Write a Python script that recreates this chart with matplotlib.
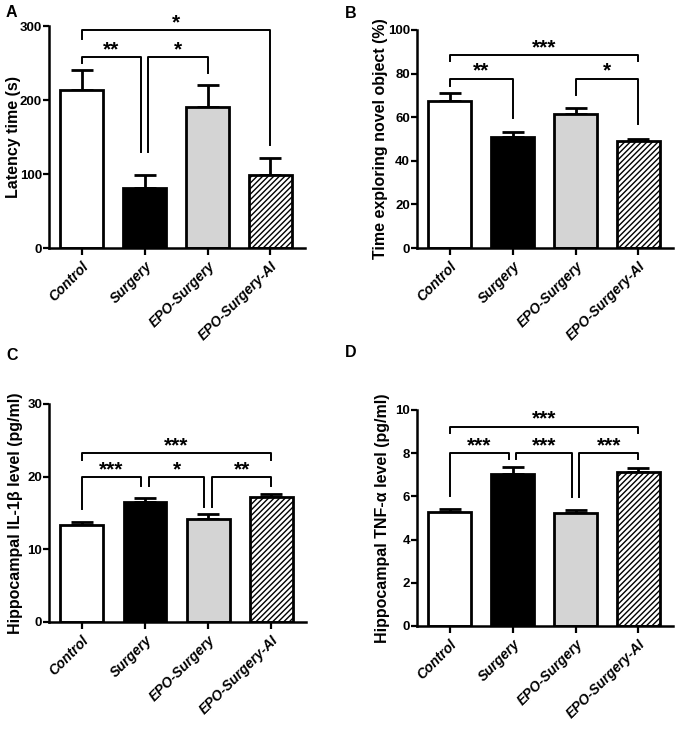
import matplotlib
matplotlib.use("Agg")
import matplotlib.pyplot as plt

plt.rcParams['font.family'] = ['Liberation Sans', 'DejaVu Sans']
plt.rcParams['font.weight'] = 'bold'
plt.rcParams['hatch.linewidth'] = 1.0

# groups shared by all four panels
groups = ["Control", "Surgery", "EPO-Surgery", "EPO-Surgery-AI"]
bar_colors = ["white", "black", "#d4d4d4", "white"]
bar_hatches = [None, None, None, "//////"]

# A: latency time (s)
latency_mean = [213, 81, 191, 99]
latency_err = [28, 18, 29, 23]
# B: time exploring novel object (%)
novel_mean = [67.6, 51.0, 61.3, 49.0]
novel_err = [3.4, 2.1, 3.0, 1.2]
# C: hippocampal IL-1beta (pg/ml)
il1b_mean = [13.4, 16.5, 14.2, 17.2]
il1b_err = [0.3, 0.5, 0.6, 0.4]
# D: hippocampal TNF-alpha (pg/ml)
tnf_mean = [5.27, 7.06, 5.24, 7.11]
tnf_err = [0.15, 0.31, 0.15, 0.19]

# significance brackets: (group i, group j, top, left leg end, right leg end, label)
latency_sig = [(0, 3, 294, 283, 139, "*"),
               (0, 1, 258, 250, 130, "**"),
               (1, 2, 258, 130, 237, "*")]
novel_sig = [(0, 3, 88.6, 85.6, 85.6, "***"),
             (0, 1, 77.7, 74.5, 59.7, "**"),
             (2, 3, 77.7, 70.0, 57.0, "*")]
il1b_sig = [(0, 3, 23.2, 22.3, 22.3, "***"),
            (0, 1, 19.9, 15.6, 18.7, "***"),
            (1, 2, 19.9, 18.7, 15.8, "*"),
            (2, 3, 19.9, 15.8, 18.7, "**")]
tnf_sig = [(0, 3, 9.23, 8.92, 8.92, "***"),
           (0, 1, 7.99, 6.01, 7.71, "***"),
           (1, 2, 7.99, 7.71, 5.98, "***"),
           (2, 3, 7.99, 5.98, 7.71, "***")]

W, H = 680, 741
fig = plt.figure(figsize=(W / 100, H / 100), dpi=100)


def px_axes(left, right, top, bottom):
    return fig.add_axes([left / W, 1 - bottom / H, (right - left) / W, (bottom - top) / H])


def draw_panel(ax, means, errs, ymax, ystep, ylabel, sigs, letter, letter_xy, label_dx):
    x = range(len(groups))
    for i in x:
        ax.bar(i, means[i], width=0.68, color=bar_colors[i], edgecolor="black",
               linewidth=2.0, hatch=bar_hatches[i], zorder=2)
        ax.errorbar(i, means[i], yerr=[[0], [errs[i]]], color="black",
                    elinewidth=2.0, capsize=8, capthick=2.0, zorder=1)
    ax.set_xlim(-0.52, 3.55)
    ax.set_ylim(0, ymax)
    ax.set_yticks([v * ystep for v in range(int(round(ymax / ystep)) + 1)])
    ax.set_xticks(list(x))
    ax.set_xticklabels(groups, rotation=45, ha="right", rotation_mode="anchor",
                       fontsize=10, fontweight="bold", fontstyle="italic")
    ax.tick_params(axis="y", labelsize=9.5, width=1.6, length=4, pad=1)
    ax.tick_params(axis="x", width=1.6, length=5, pad=3)
    for lbl in ax.get_yticklabels():
        lbl.set_fontweight("bold")
    ax.spines["top"].set_visible(False)
    ax.spines["right"].set_visible(False)
    ax.spines["left"].set_linewidth(1.8)
    ax.spines["bottom"].set_linewidth(1.8)
    ax.set_ylabel(ylabel, fontsize=11.5, fontweight="bold", va="center")
    bbox = ax.get_position()
    ax.yaxis.set_label_coords(label_dx / (bbox.width * W), 0.5)
    for i, j, top, yl, yr, label in sigs:
        adj = j - i == 1
        xi = i + (0.06 if adj and any(s[1] == i and s[1] - s[0] == 1 for s in sigs) else 0)
        xj = j - (0.06 if adj and any(s[0] == j and s[1] - s[0] == 1 for s in sigs) else 0)
        ax.plot([xi, xi, xj, xj], [yl, top, top, yr], color="black", lw=1.4,
                clip_on=False, zorder=3)
        ax.text((xi + xj) / 2, top - ymax * 0.010, label, ha="center", va="bottom",
                fontsize=15, fontweight="bold", clip_on=False)
    fig.text(letter_xy[0] / W, 1 - letter_xy[1] / H, letter, fontsize=11.5,
             fontweight="bold", ha="left", va="top")


axA = px_axes(49, 305, 26, 248)
draw_panel(axA, latency_mean, latency_err, 300, 100, "Latency time (s)",
           latency_sig, "A", (6, 5), -35)
axB = px_axes(417, 673, 30, 248)
draw_panel(axB, novel_mean, novel_err, 100, 20, "Time exploring novel object (%)",
           novel_sig, "B", (345, 6), -37)
axC = px_axes(49, 306, 404, 622)
draw_panel(axC, il1b_mean, il1b_err, 30, 10, "Hippocampal IL-1\u03b2 level (pg/ml)",
           il1b_sig, "C", (6, 348), -33)
axD = px_axes(417, 673, 410, 626)
draw_panel(axD, tnf_mean, tnf_err, 10, 2, "Hippocampal TNF-\u03b1 level (pg/ml)",
           tnf_sig, "D", (345, 345), -34)

fig.savefig("out.png", dpi=100)
